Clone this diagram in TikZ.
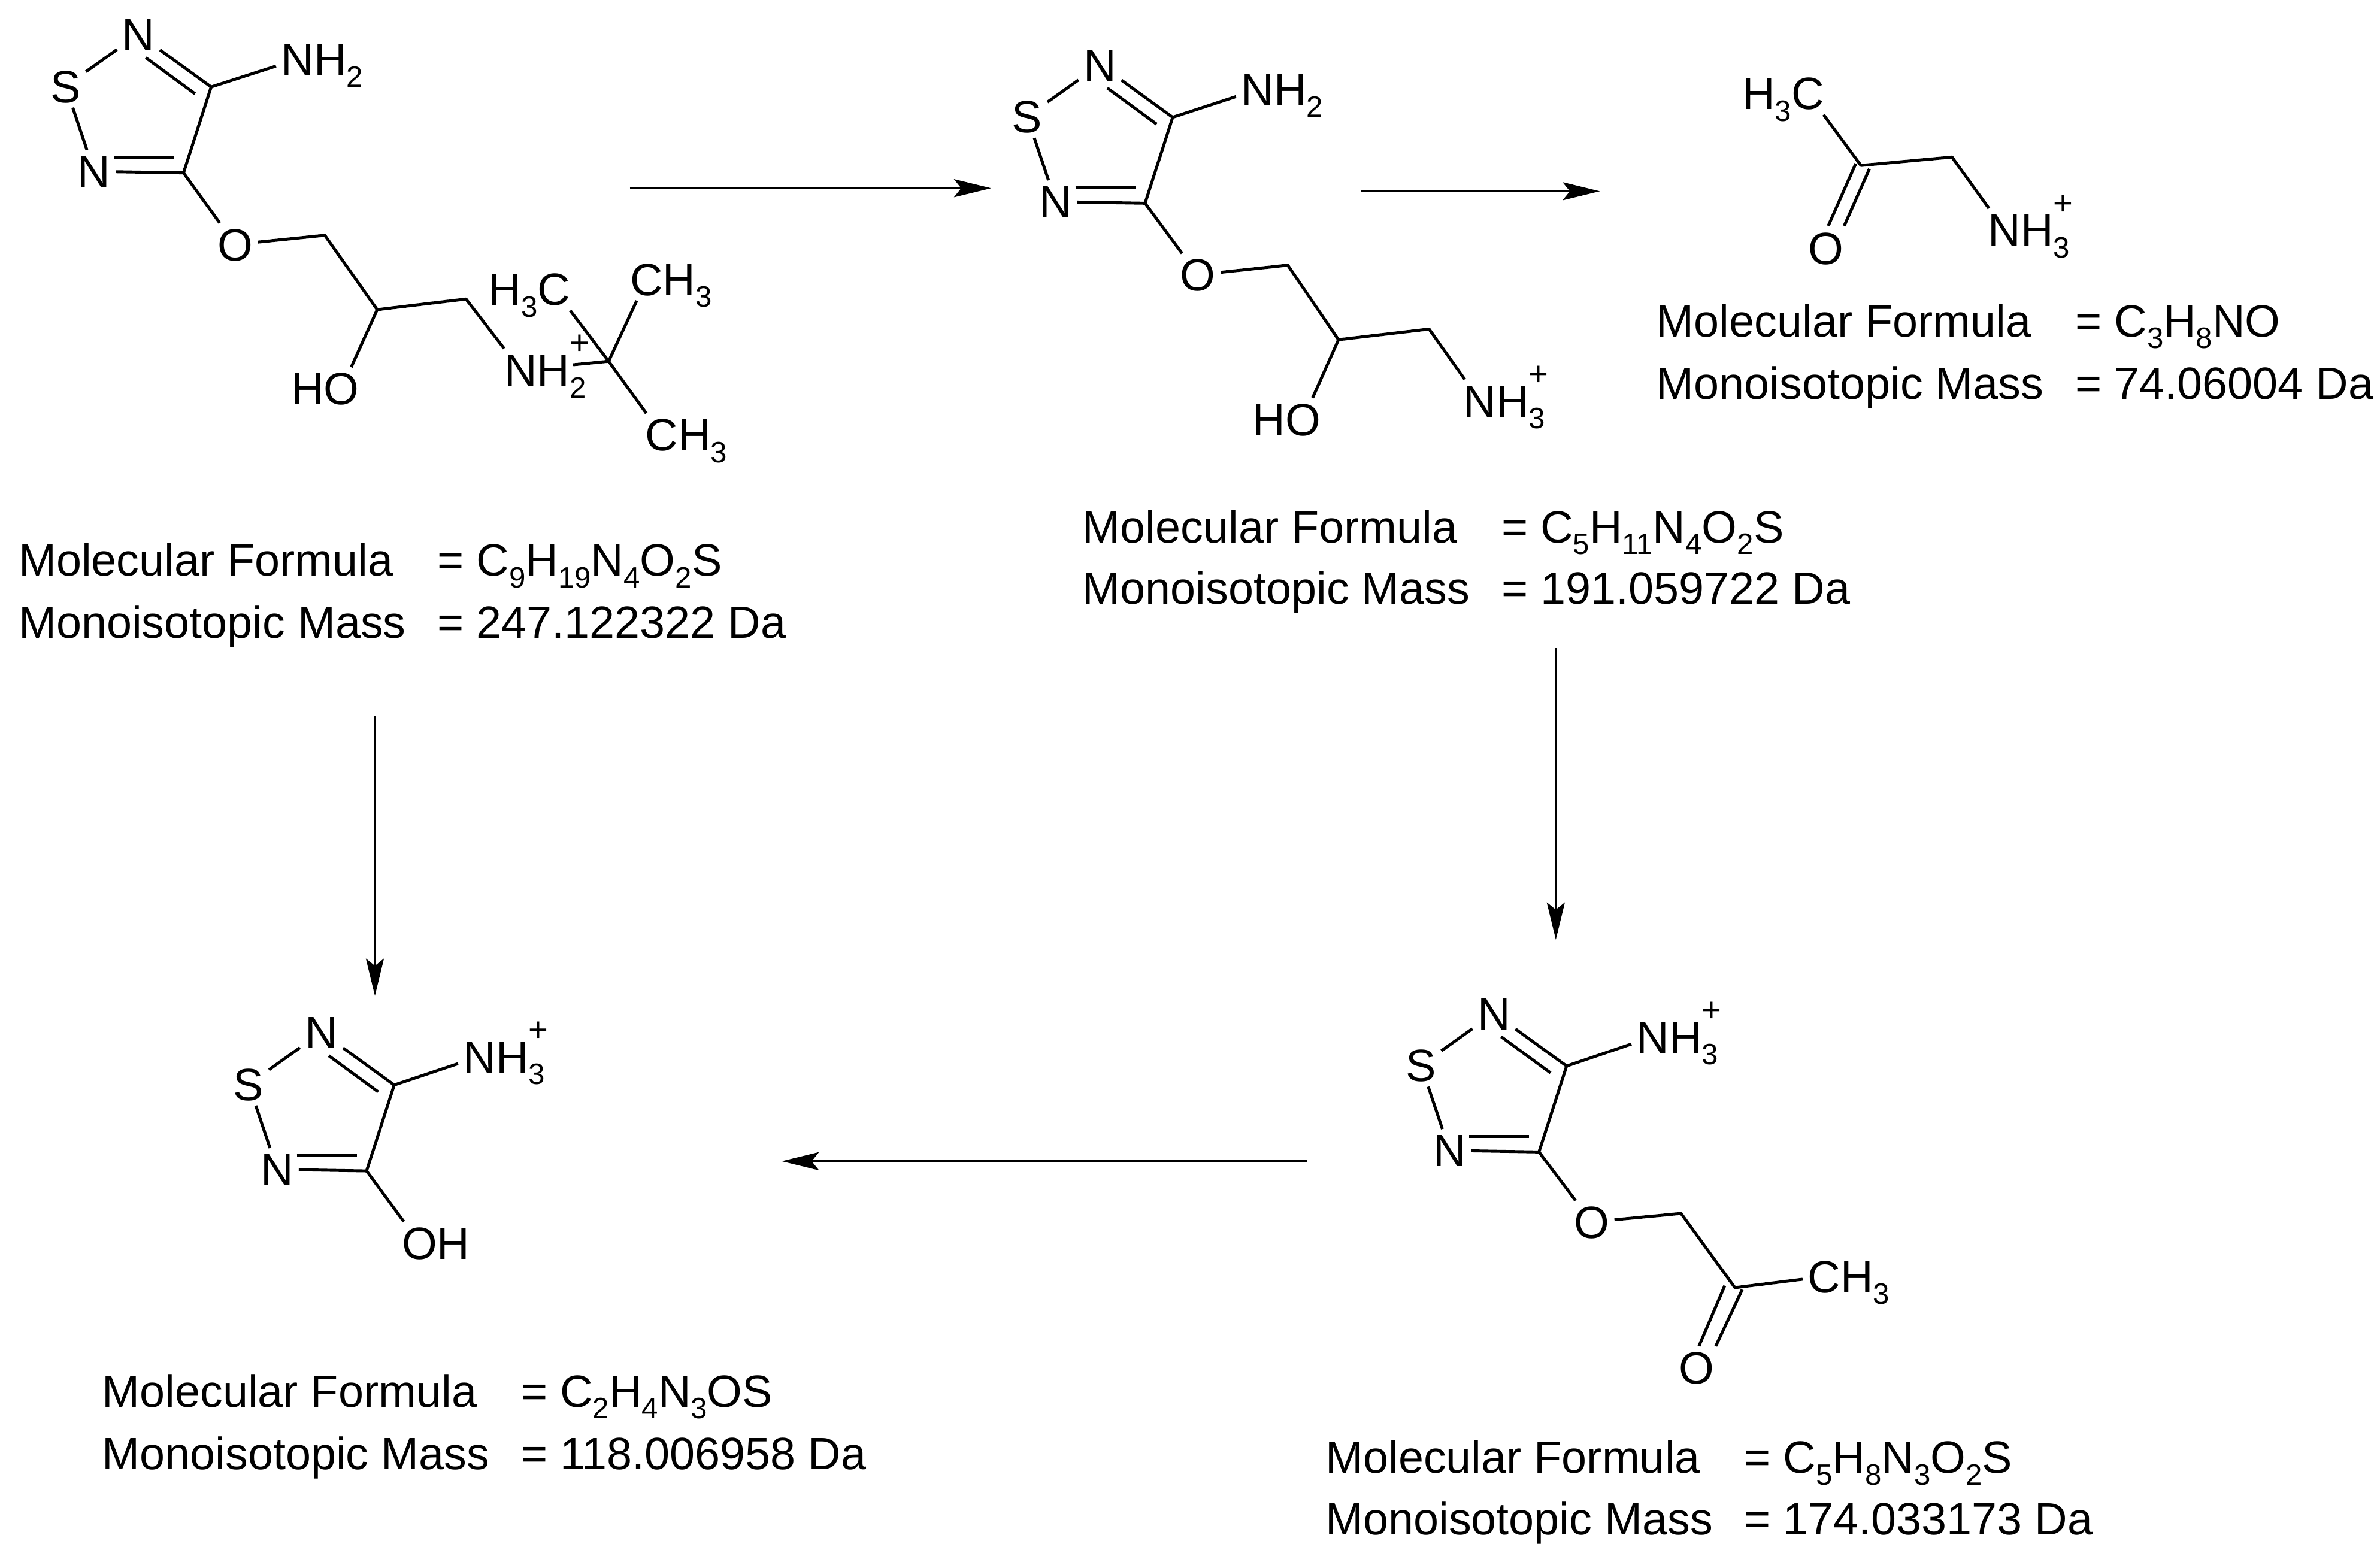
\documentclass[tikz,border=0pt]{standalone}
\usepackage{fontspec}
\setmainfont{Liberation Sans}
\usetikzlibrary{arrows.meta}
\newcommand{\dn}[1]{\raisebox{-5.5pt}{\fontsize{14}{14}\selectfont #1}}
\newcommand{\dnup}[1]{\rlap{\raisebox{15pt}{\fontsize{16}{16}\selectfont +}}\dn{#1}}
% five-membered ring, the same in all four thiadiazole molecules
\newcommand{\ring}[3]{
\begin{scope}[shift={(#2,#3)}]
\node[atom] (#1S) at (43.2,56.8) {S};
\node[atom] (#1N1) at (91.2,22.6) {N};
\node[atom] (#1N2) at (62,112.9) {N};
\coordinate (#1C4) at (139.1,57.3);
\coordinate (#1C3) at (120.9,113.9);
\coordinate (#1i1) at (96,38);
\coordinate (#1i2) at (128.5,61.8);
\coordinate (#1i3) at (75,103.8);
\coordinate (#1i4) at (114.5,103.8);
\draw [bond] (#1N1) -- (#1S) -- (#1N2) -- (#1C3) -- (#1C4) -- (#1N1);
\draw [bond] (#1i1) -- (#1i2);
\draw [bond] (#1i3) -- (#1i4);
\end{scope}
}
\begin{document}
\begin{tikzpicture}[x=.02534cm, y=-.02534cm, font=\fontsize{21.5}{24}\selectfont,
atom/.style={inner sep=.8mm,text height=15.4pt,text depth=0pt},
bond/.style={line width=1.4pt,line join=round},
rxn/.style={line width=1pt,-{Stealth[length=6.2mm,width=3mm,inset=1.2mm]}},
info/.style={anchor=base west,inner sep=0pt}]
\useasboundingbox (0,0) rectangle (1568,1021);
%first molecule
\ring{a}{0}{0}
\node[atom] (aNH) at (196,39) {N\rlap{H\dn{2}}};
\node[atom] (aO) at (155,161) {O};
\coordinate (aC1) at (214,155);
\coordinate (aC2) at (248.5,204);
\coordinate (aC5) at (307,197);
\node[atom] (aOH) at (225,256) {\llap{H}O};
\node[atom] (aNt) at (343,243.7) {N\rlap{H\dnup{2}}};
\coordinate (aC6) at (401,238);
\node[atom] (aMe1) at (365,190.5) {\llap{H\dn{3}}C};
\node[atom] (aMe2) at (426,184) {C\rlap{H\dn{3}}};
\node[atom] (aMe3) at (436,286.4) {C\rlap{H\dn{3}}};
\draw [bond] (aC4) -- (aNH);
\draw [bond] (aC3) -- (aO) -- (aC1) -- (aC2) -- (aC5) -- (aNt);
\draw [bond] (aC2) -- (aOH);
\draw [bond,shorten >=5.2mm] (aC6) -- (aNt);
\draw [bond] (aC6) -- (aMe1);
\draw [bond] (aC6) -- (aMe2);
\draw [bond] (aC6) -- (aMe3);
\node[info] (af) at (12,379.5) {Molecular Formula};
\node[info] (afv) at (288,379.5) {= C\dn{9}H\dn{19}N\dn{4}O\dn{2}S};
\node[info] (am) at (12,420.5) {Monoisotopic Mass};
\node[info] (amv) at (288,420.5) {= 247.122322 Da};
%second molecule
\ring{b}{633.5}{20}
\node[atom] (bNH) at (828.5,59) {N\rlap{H\dn{2}}};
\node[atom] (bO) at (789.2,181) {O};
\coordinate (bC1) at (848.4,174.7);
\coordinate (bC2) at (881.8,223.8);
\coordinate (bC5) at (941.5,216.8);
\node[atom] (bOH) at (858.5,276.2) {\llap{H}O};
\node[atom] (bNt) at (975,264) {N\rlap{H\dnup{3}}};
\draw [bond] (bC4) -- (bNH);
\draw [bond] (bC3) -- (bO) -- (bC1) -- (bC2) -- (bC5) -- (bNt);
\draw [bond] (bC2) -- (bOH);
\node[info] (bf) at (713,357.5) {Molecular Formula};
\node[info] (bfv) at (989,357.5) {= C\dn{5}H\dn{11}N\dn{4}O\dn{2}S};
\node[info] (bm) at (713,398) {Monoisotopic Mass};
\node[info] (bmv) at (989,398) {= 191.059722 Da};
%third molecule
\node[atom] (cMe) at (1191,61.5) {\llap{H\dn{3}}C};
\coordinate (cC1) at (1226,109);
\coordinate (cC2) at (1286,103.5);
\node[atom] (cNt) at (1320.5,151.4) {N\rlap{H\dnup{3}}};
\node[atom] (cO) at (1203,163.4) {O};
\coordinate (cd1) at (1222.6,107.8);
\coordinate (cd2) at (1204.5,148.8);
\coordinate (cd3) at (1231.6,111.3);
\coordinate (cd4) at (1215,148.8);
\draw [bond] (cMe) -- (cC1) -- (cC2) -- (cNt);
\draw [bond] (cd1) -- (cd2);
\draw [bond] (cd3) -- (cd4);
\node[info] (cf) at (1091,222) {Molecular Formula};
\node[info] (cfv) at (1367,222) {= C\dn{3}H\dn{8}NO};
\node[info] (cm) at (1091,263) {Monoisotopic Mass};
\node[info] (cmv) at (1367,263) {= 74.06004 Da};
%fourth molecule
\ring{d}{120.6}{657.5}
\node[atom] (dNt) at (316,696) {N\rlap{H\dnup{3}}};
\node[atom] (dOH) at (276.4,818.9) {O\rlap{H}};
\draw [bond] (dC4) -- (dNt);
\draw [bond] (dC3) -- (dOH);
\node[info] (df) at (67,927) {Molecular Formula};
\node[info] (dfv) at (343,927) {= C\dn{2}H\dn{4}N\dn{3}OS};
\node[info] (dm) at (67,968) {Monoisotopic Mass};
\node[info] (dmv) at (343,968) {= 118.006958 Da};
%fifth molecule
\ring{e}{893}{645}
\node[atom] (eNt) at (1089,683) {N\rlap{H\dnup{3}}};
\node[atom] (eO) at (1048.6,805) {O};
\coordinate (eC1) at (1107.5,799.4);
\coordinate (eC2) at (1143,848.3);
\node[atom] (eMe) at (1201.8,841) {C\rlap{H\dn{3}}};
\node[atom] (eO2) at (1117.7,901) {O};
\coordinate (ed1) at (1147.8,849.6);
\coordinate (ed2) at (1130.4,886.8);
\coordinate (ed3) at (1136.3,847);
\coordinate (ed4) at (1119.3,886.8);
\draw [bond] (eC4) -- (eNt);
\draw [bond] (eC3) -- (eO) -- (eC1) -- (eC2) -- (eMe);
\draw [bond] (ed1) -- (ed2);
\draw [bond] (ed3) -- (ed4);
\node[info] (ef) at (873,970.5) {Molecular Formula};
\node[info] (efv) at (1149,970.5) {= C\dn{5}H\dn{8}N\dn{3}O\dn{2}S};
\node[info] (em) at (873,1011) {Monoisotopic Mass};
\node[info] (emv) at (1149,1011) {= 174.033173 Da};
%reaction arrows
\coordinate (r1) at (415,124);
\coordinate (r2) at (653,124);
\coordinate (r3) at (897,126);
\coordinate (r4) at (1054,126);
\coordinate (r5) at (1025,427);
\coordinate (r6) at (1025,619);
\coordinate (r7) at (247,472);
\coordinate (r8) at (247,656);
\coordinate (r9) at (861,765);
\coordinate (r10) at (515,765);
\draw [rxn] (r1) -- (r2);
\draw [rxn] (r3) -- (r4);
\draw [rxn] (r5) -- (r6);
\draw [rxn] (r7) -- (r8);
\draw [rxn] (r9) -- (r10);
\end{tikzpicture}
\end{document}
